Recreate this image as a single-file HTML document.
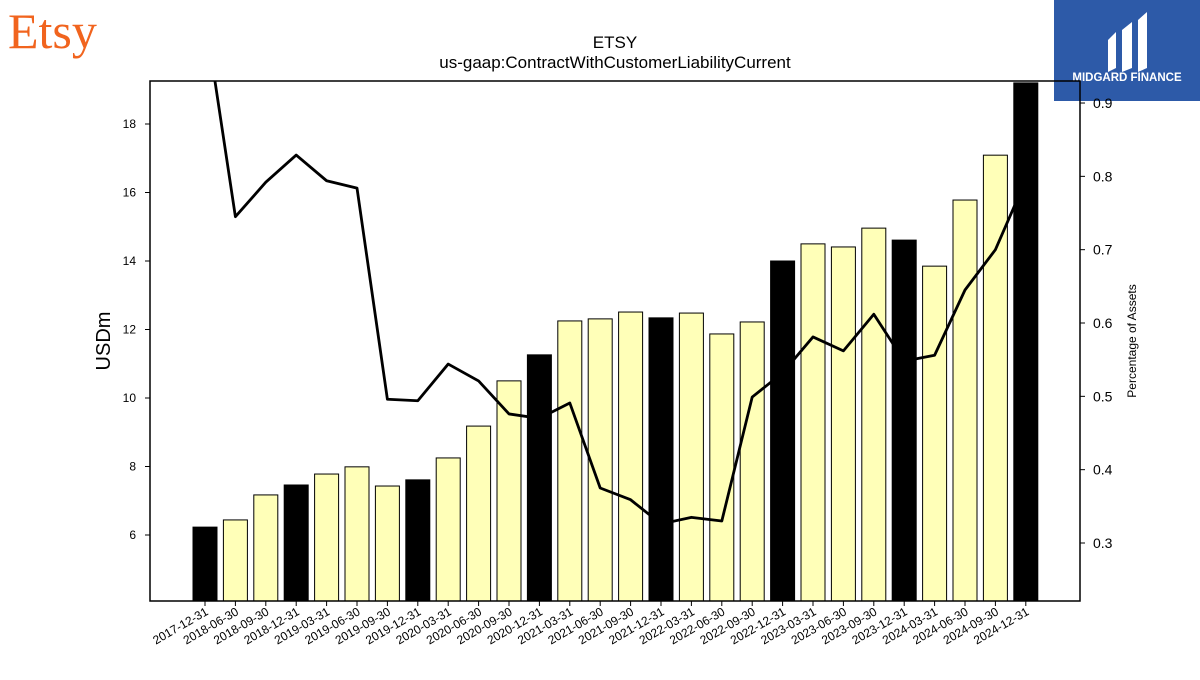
<!DOCTYPE html>
<html><head><meta charset="utf-8"><style>
body{margin:0;background:#fff;width:1200px;height:675px;overflow:hidden;font-family:"Liberation Sans","DejaVu Sans",sans-serif}
</style></head><body>
<svg id="chart" width="1200" height="675" xmlns="http://www.w3.org/2000/svg">
<text x="8" y="48" font-family="Liberation Serif,serif" font-size="50" fill="#f1641e">Etsy</text>
<g>
<rect x="1054" y="0" width="146" height="101" fill="#2d5aa8"/>
<path d="M1108 40 L1116 32 L1116 68 L1108 72 Z M1122 30 L1132 22 L1132 68 L1122 72 Z M1138 20 L1147 12 L1147 68 L1138 72 Z" fill="#fff"/>
<text x="1127" y="81" text-anchor="middle" font-size="11.5" font-weight="bold" fill="#fff">MIDGARD FINANCE</text>
</g>
<text x="615" y="48" text-anchor="middle" font-size="17">ETSY</text>
<text x="615" y="68" text-anchor="middle" font-size="17">us-gaap:ContractWithCustomerLiabilityCurrent</text>
<defs><clipPath id="plotclip"><rect x="150" y="81" width="930" height="520"/></clipPath></defs>
<g id="bars"></g>
<g id="line" clip-path="url(#plotclip)"></g>
<rect x="150" y="81" width="930" height="520" fill="none" stroke="#000" stroke-width="1.5"/>
<g id="axes"></g>
<text transform="translate(110,341) rotate(-90)" text-anchor="middle" font-size="20">USDm</text>
<text transform="translate(1136,341) rotate(-90)" text-anchor="middle" font-size="12">Percentage of Assets</text>
</svg>
<script>
const categories=["2017-12-31","2018-06-30","2018-09-30","2018-12-31","2019-03-31","2019-06-30","2019-09-30","2019-12-31","2020-03-31","2020-06-30","2020-09-30","2020-12-31","2021-03-31","2021-06-30","2021-09-30","2021-12-31","2022-03-31","2022-06-30","2022-09-30","2022-12-31","2023-03-31","2023-06-30","2023-09-30","2023-12-31","2024-03-31","2024-06-30","2024-09-30","2024-12-31"];
const liabilityValues=[6.23,6.44,7.17,7.46,7.78,7.99,7.43,7.61,8.25,9.18,10.50,11.26,12.25,12.31,12.51,12.34,12.48,11.87,12.22,14.0,14.50,14.41,14.96,14.61,13.85,15.78,17.09,19.2];
const pctOfAssets=[1.02,0.745,0.792,0.829,0.794,0.784,0.496,0.494,0.544,0.521,0.476,0.470,0.491,0.375,0.359,0.326,0.335,0.330,0.499,0.532,0.581,0.562,0.612,0.548,0.556,0.645,0.700,0.795];
const leftTicks=[6,8,10,12,14,16,18];
const rightTicks=[0.3,0.4,0.5,0.6,0.7,0.8,0.9];
const NS="http://www.w3.org/2000/svg";
const yL=v=>535-(v-6)*34.25;
const yR=v=>543-(v-0.3)*733.3;
const xC=i=>205+i*30.4;
const bottom=601;
function mk(t,a,p){const e=document.createElementNS(NS,t);for(const k in a)e.setAttribute(k,a[k]);p.appendChild(e);return e;}
const bars=document.getElementById('bars');
categories.forEach((c,i)=>{
  const v=liabilityValues[i];
  const r=mk('rect',{x:xC(i)-12,y:yL(v),width:24,height:bottom-yL(v),fill:c.endsWith('12-31')?'#000':'#ffffb8',stroke:'#000','stroke-width':1},bars);
  
  
});
const lg=document.getElementById('line');
const pl=mk('polyline',{points:pctOfAssets.map((v,i)=>xC(i)+','+yR(v)).join(' '),fill:'none',stroke:'#000','stroke-width':2.8,'stroke-linejoin':'round'},lg);


const ax=document.getElementById('axes');
leftTicks.forEach(t=>{
  mk('line',{x1:145,x2:150,y1:yL(t),y2:yL(t),stroke:'#000'},ax);
  const tx=mk('text',{x:136,y:yL(t)+4,'text-anchor':'end','font-size':12},ax);tx.textContent=t;
  
  
});
rightTicks.forEach(t=>{
  mk('line',{x1:1080,x2:1085,y1:yR(t),y2:yR(t),stroke:'#000'},ax);
  const tx=mk('text',{x:1093,y:yR(t)+5,'font-size':14},ax);tx.textContent=t.toFixed(1);
  
  
});
categories.forEach((c,i)=>{
  mk('line',{x1:xC(i),x2:xC(i),y1:601,y2:606,stroke:'#000'},ax);
  const tx=mk('text',{x:xC(i)+4,y:614,'text-anchor':'end','font-size':12,transform:'rotate(-30 '+(xC(i)+4)+' 614)'},ax);tx.textContent=c;
  
  
});
</script>
</body></html>
